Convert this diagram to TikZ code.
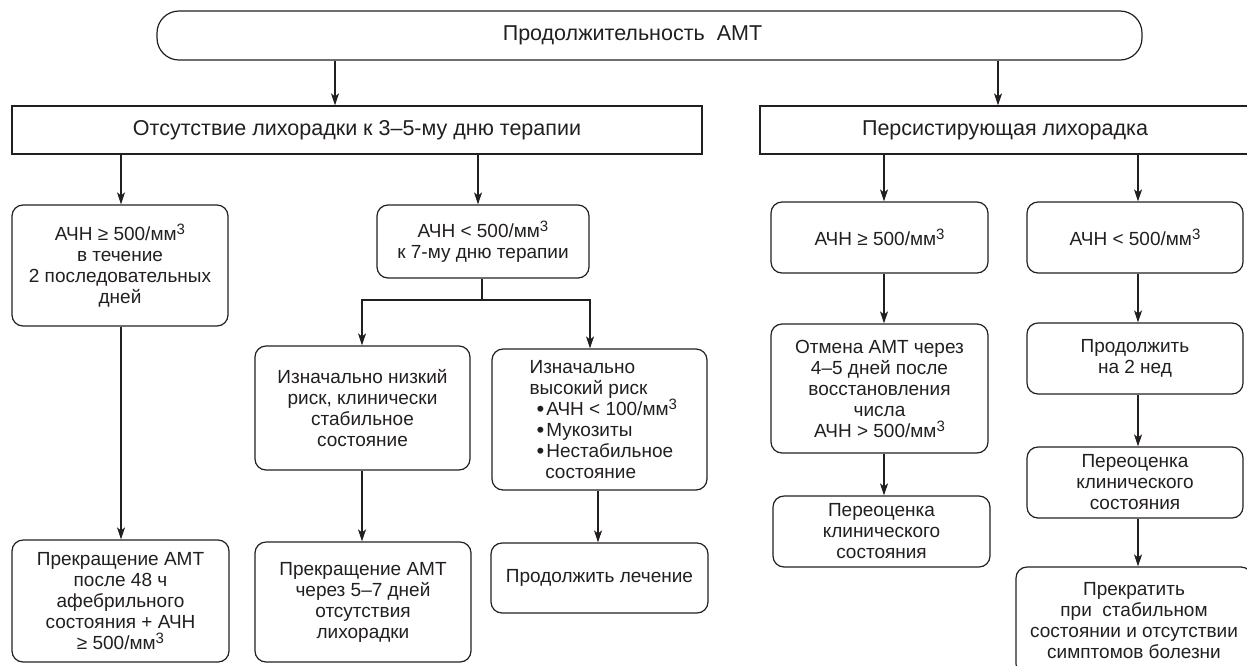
\documentclass[tikz,border=0pt]{standalone}
\usepackage{fontspec}
\setmainfont{Liberation Sans}
\usetikzlibrary{arrows.meta}
\definecolor{ink}{HTML}{231F20}
\newcommand{\cubx}{\raisebox{6pt}{\fontsize{15}{15}\selectfont 3}}
\newcommand{\blt}{\makebox[7pt]{}\smash{\raisebox{-1pt}{\fontsize{22}{22}\selectfont\textbullet}}\hspace{2pt}}
\begin{document}
\begin{tikzpicture}[x=1pt,y=-1pt,
  box/.style={draw=ink, line width=1.2pt, rounded corners=11pt, align=center, inner sep=0pt,
    text=ink, font=\fontsize{19}{21}\selectfont},
  txt/.style={inner sep=0pt, text=ink, font=\fontsize{19}{21}\selectfont},
  sqbox/.style={draw=ink, line width=1.2pt, inner sep=0pt, text=ink, font=\fontsize{21.5}{24}\selectfont},
  arr/.style={draw=ink, line width=1.2pt, -{Stealth[length=12pt,width=8pt,inset=3pt]}},
  ln/.style={draw=ink, line width=1.2pt}]
\useasboundingbox (0,0) rectangle (1247,665);
\fill[white] (0,0) rectangle (1247,665);
\clip (0,0) rectangle (1247,665);

% x positions of connectors
\coordinate (xa) at (335,0);
\coordinate (xb) at (998,0);
\coordinate (xc) at (121,0);
\coordinate (xd) at (478,0);
\coordinate (xe) at (884,0);
\coordinate (xf) at (1138,0);
\coordinate (xg) at (362,0);
\coordinate (xh) at (590,0);
\coordinate (xi) at (598,0);
\coordinate (jn) at (482,300);

% nodes
\node[sqbox, rounded corners=22pt, minimum width=985pt, minimum height=49pt] (T) at (649.5,35.5)
  {Продолжительность\ \ АМТ\hspace*{34pt}};
\node[sqbox, minimum width=690pt, minimum height=48pt] (S1) at (357,130)
  {Отсутствие лихорадки к 3–5-му дню терапии};
\node[sqbox, minimum width=490pt, minimum height=48pt] (S2) at (1005,130)
  {Персистирующая лихорадка};

\node[box, minimum width=216pt, minimum height=121pt] (A) at (120,265.5)
  {АЧН ≥ 500/мм\cubx\\в течение\\2 последовательных\\дней};
\node[box, minimum width=217pt, minimum height=122pt] (L) at (120.5,601)
  {Прекращение АМТ\\после 48 ч\\афебрильного\\состояния + АЧН\\≥ 500/мм\cubx};
\node[box, minimum width=212pt, minimum height=73pt] (B) at (483,241.5)
  {АЧН < 500/мм\cubx\\к 7-му дню терапии};
\node[box, minimum width=215pt, minimum height=124pt] (C) at (362.5,408)
  {Изначально низкий\\риск, клинически\\стабильное\\состояние};
\node[box, minimum width=216pt, minimum height=120pt] (M) at (363,602)
  {Прекращение АМТ\\через 5–7 дней\\отсутствия\\лихорадки};
\node[box, minimum width=215pt, minimum height=141pt] (D) at (599.5,419.5) {};
\node[txt, anchor=west, align=left] (Dt) at ([xshift=38pt]D.west)
  {Изначально\\высокий риск\\\blt АЧН < 100/мм\cubx\\\blt Мукозиты\\\blt Нестабильное\\\makebox[7pt]{}\phantom{\textbullet}\hspace{2pt}состояние};
\node[box, minimum width=217pt, minimum height=70pt] (N) at (599.5,578)
  {Продолжить лечение};

\node[box, minimum width=217pt, minimum height=71pt] (E) at (879.5,237.5)
  {АЧН ≥ 500/мм\cubx};
\node[box, minimum width=217pt, minimum height=129pt] (F) at (879.5,388.5)
  {Отмена АМТ через\\4–5 дней после\\восстановления\\числа\\АЧН > 500/мм\cubx};
\node[box, minimum width=217pt, minimum height=71pt] (G) at (881.5,531.5)
  {Переоценка\\клинического\\состояния};

\node[box, minimum width=216pt, minimum height=71pt] (H) at (1135,237.5)
  {АЧН < 500/мм\cubx};
\node[box, minimum width=216pt, minimum height=71pt] (I) at (1135,358.5)
  {Продолжить\\на 2 нед};
\node[box, minimum width=216pt, minimum height=71pt] (J) at (1135,482.5)
  {Переоценка\\клинического\\состояния};
\node[box, minimum width=236pt, minimum height=108pt] (K) at (1134,621)
  {Прекратить\\при\ \ стабильном\\состоянии и отсутствии\\симптомов болезни};

% connectors
\draw[arr] (T.south -| xa) -- (S1.north -| xa);
\draw[arr] (T.south -| xb) -- (S2.north -| xb);
\draw[arr] (S1.south -| xc) -- (A.north -| xc);
\draw[arr] (S1.south -| xd) -- (B.north -| xd);
\draw[arr] (S2.south -| xe) -- (E.north -| xe);
\draw[arr] (S2.south -| xf) -- (H.north -| xf);
\draw[arr] (A.south -| xc) -- (L.north -| xc);
\draw[ln] (B.south -| jn) -- (jn);
\draw[arr] (jn) -| (C.north -| xg);
\draw[arr] (jn) -| (D.north -| xh);
\draw[arr] (C.south -| xg) -- (M.north -| xg);
\draw[arr] (D.south -| xi) -- (N.north -| xi);
\draw[arr] (E.south -| xe) -- (F.north -| xe);
\draw[arr] (F.south -| xe) -- (G.north -| xe);
\draw[arr] (H.south -| xf) -- (I.north -| xf);
\draw[arr] (I.south -| xf) -- (J.north -| xf);
\draw[arr] (J.south -| xf) -- (K.north -| xf);
\end{tikzpicture}
\end{document}
